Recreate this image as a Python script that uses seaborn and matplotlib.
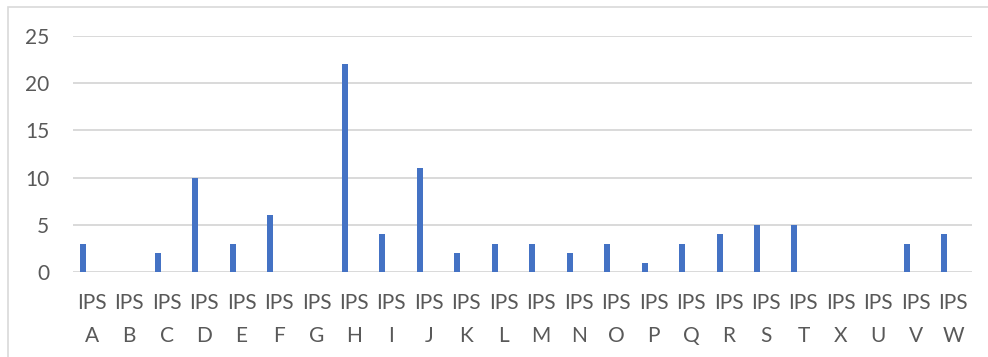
import matplotlib
matplotlib.use("Agg")
import matplotlib.pyplot as plt
from matplotlib.patches import Rectangle
import seaborn as sns
import pandas as pd

# Data
sites = ["A", "B", "C", "D", "E", "F", "G", "H", "I", "J", "K", "L",
         "M", "N", "O", "P", "Q", "R", "S", "T", "X", "U", "V", "W"]
counts = [3, 0, 2, 10, 3, 6, 0, 22, 4, 11, 2, 3,
          3, 2, 3, 1, 3, 4, 5, 5, 0, 0, 3, 4]
y_ticks = [0, 5, 10, 15, 20, 25]

labels = [f"IPS\n{s}" for s in sites]
df = pd.DataFrame({"site": labels, "count": counts})

sns.set_theme(style="white")
plt.rcParams["font.family"] = ["Lato", "DejaVu Sans"]

TEXT = "#595959"
GRID = "#D9D9D9"
BAR = "#4472C4"

fig = plt.figure(figsize=(9.88, 3.57), dpi=100)
ax = fig.add_axes([0.0739, 0.238, 0.9099, 0.661])

bar_w = 0.16
sns.barplot(data=df, x="site", y="count", color=BAR, width=bar_w,
            saturation=1, ax=ax, order=labels)
# first slot of a four-slot cluster: shift bars left of the category centre
for p in ax.patches:
    p.set_x(p.get_x() - 1.5 * bar_w)
    p.set_edgecolor("none")

ax.set_xlim(-0.5, len(labels) - 0.5)
ax.set_ylim(0, 25)
ax.set_yticks(y_ticks)
ax.set_xlabel("")
ax.set_ylabel("")
for s in ax.spines.values():
    s.set_visible(False)
ax.yaxis.grid(True, color=GRID, linewidth=1.4)
ax.set_axisbelow(True)
ax.tick_params(axis="y", length=0, pad=17, labelsize=15, labelcolor=TEXT)
ax.tick_params(axis="x", length=0, pad=15, labelsize=15, labelcolor=TEXT)
for t in ax.get_xticklabels():
    t.set_linespacing(1.85)

# chart-area outline
fig.patches.append(Rectangle((8 / 988, -0.05), 1.0, 1 - 7 / 357 + 0.05,
                             transform=fig.transFigure, fill=False,
                             edgecolor=GRID, linewidth=1.2))

fig.savefig("out.png", dpi=100)
